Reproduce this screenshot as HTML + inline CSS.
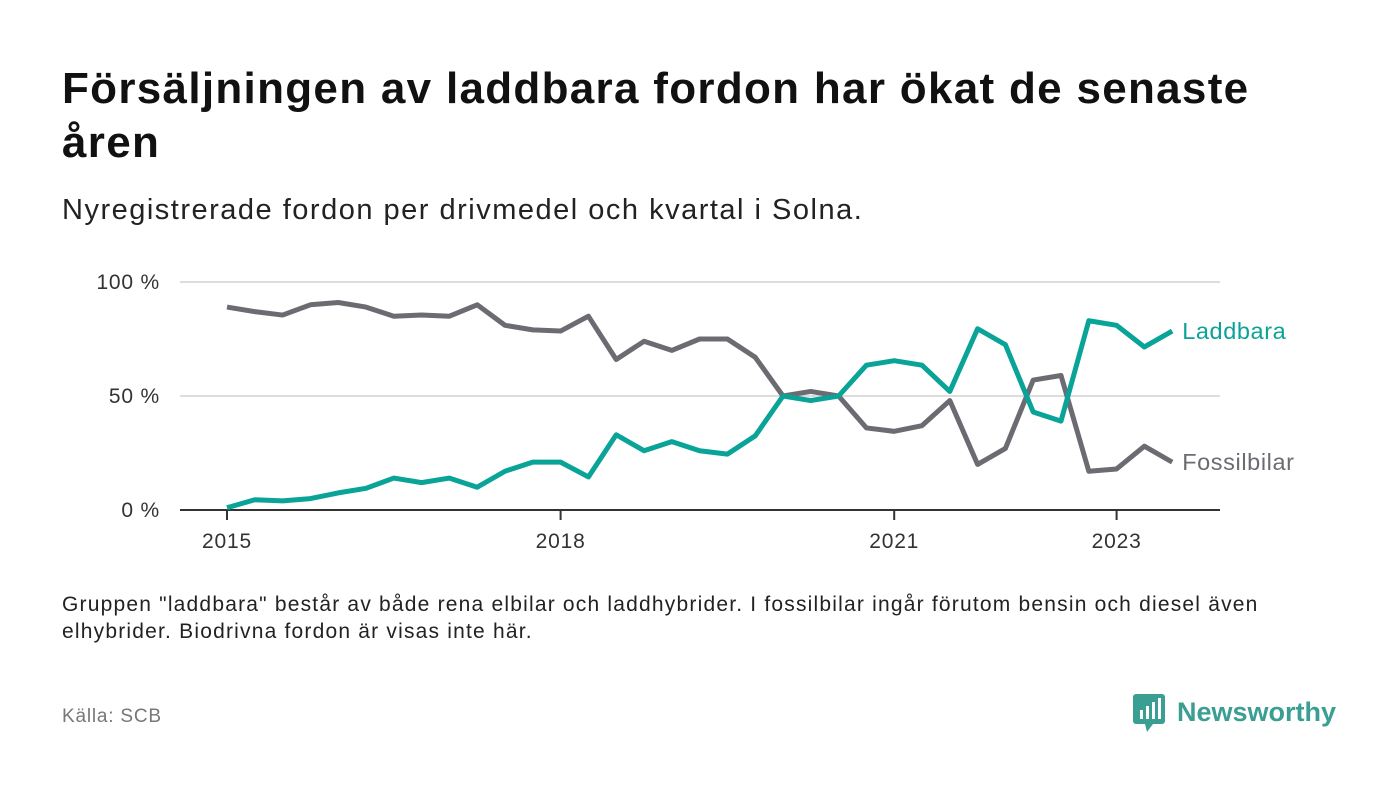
<!DOCTYPE html>
<html><head><meta charset="utf-8"><style>
body{margin:0;width:1400px;height:793px;background:#fff;font-family:"Liberation Sans",sans-serif;overflow:hidden;position:relative}
.t{position:absolute;left:62px;top:62px;font-size:44px;font-weight:bold;color:#111;line-height:54px;width:1330px;letter-spacing:1.3px;white-space:nowrap}
.s{position:absolute;left:62px;top:194px;font-size:29px;color:#222;letter-spacing:1.5px;white-space:nowrap}
.n{position:absolute;left:62px;top:591px;font-size:21px;color:#222;line-height:27px;width:1330px;letter-spacing:1.2px;white-space:nowrap}
.src{position:absolute;left:62px;top:706px;font-size:19px;color:#777;letter-spacing:0.8px}
</style></head><body>
<div class="t">Försäljningen av laddbara fordon har ökat de senaste<br>åren</div>
<div class="s">Nyregistrerade fordon per drivmedel och kvartal i Solna.</div>
<svg id="c" width="1400" height="793" style="position:absolute;left:0;top:0"></svg>
<div class="n">Gruppen "laddbara" består av både rena elbilar och laddhybrider. I fossilbilar ingår förutom bensin och diesel även<br>elhybrider. Biodrivna fordon är visas inte här.</div>
<div class="src">Källa: SCB</div>
<div style="position:absolute;left:1133px;top:692px;height:40px;display:flex;align-items:center">
<svg width="34" height="40"><rect x="0" y="2" width="32" height="30" rx="3" fill="#3a9e93"/><polygon points="12,32 20,32 14,40" fill="#3a9e93"/><rect x="7" y="18" width="3" height="9" fill="#fff"/><rect x="13" y="14" width="3" height="13" fill="#fff"/><rect x="19" y="10" width="3" height="17" fill="#fff"/><rect x="25" y="6" width="3" height="21" fill="#fff"/></svg>
<span style="margin-left:10px;font-size:27px;font-weight:bold;color:#3a9e93">Newsworthy</span></div>
<script>
const yTicks=[0,50,100];
const yLabels=["0 %","50 %","100 %"];
const xTickIdx=[0,12,24,32];
const xLabels=["2015","2018","2021","2023"];
const fossil=[89,87,85.5,90,91,89,85,85.5,85,90,81,79,78.5,85,66,74,70,75,75,67,50,52,50,36,34.5,37,48,20,27,57,59,17,18,28,21];
const laddbara=[1,4.5,4,5,7.5,9.5,14,12,14,10,17,21,21,14.5,33,26,30,26,24.5,32.5,50,48,50,63.5,65.5,63.5,52,79.5,72.5,43,39,83,81,71.5,78.5];
const svg=document.getElementById('c');const NS='http://www.w3.org/2000/svg';
const x=i=>227+i*27.8, y=v=>510-v*2.28;
function mk(t,a){const e=document.createElementNS(NS,t);for(const k in a)e.setAttribute(k,a[k]);svg.appendChild(e);return e;}
yTicks.forEach((v,i)=>{
 if(v>0){const g=mk('line',{x1:180,x2:1220,y1:y(v),y2:y(v),stroke:'#ddd','stroke-width':2});
 
 }
 const t=mk('text',{x:160,y:y(v)+7,'text-anchor':'end','font-size':21,fill:'#333','letter-spacing':0.8});t.textContent=yLabels[i];
 
 
});
const ax=mk('line',{x1:180,x2:1220,y1:510,y2:510,stroke:'#333','stroke-width':2});


xTickIdx.forEach((k,i)=>{
 const l=mk('line',{x1:x(k),x2:x(k),y1:510,y2:520,stroke:'#333','stroke-width':2});
 
 
 const t=mk('text',{x:x(k),y:548,'text-anchor':'middle','font-size':21,fill:'#333','letter-spacing':0.8});t.textContent=xLabels[i];
 
 
});
function line(d,c,name,label){
 const p=mk('polyline',{points:d.map((v,i)=>x(i)+','+y(v)).join(' '),fill:'none',stroke:c,'stroke-width':5,'stroke-linejoin':'round'});
 
 
 const n=d.length-1;
 const t=mk('text',{x:x(n)+10,y:y(d[n])+8,'font-size':23.5,fill:c,'letter-spacing':0.6});t.textContent=label;
 
 
}
line(fossil,'#6c6b72','fossilbilar','Fossilbilar');
line(laddbara,'#0aa397','laddbara','Laddbara');
</script>
</body></html>
